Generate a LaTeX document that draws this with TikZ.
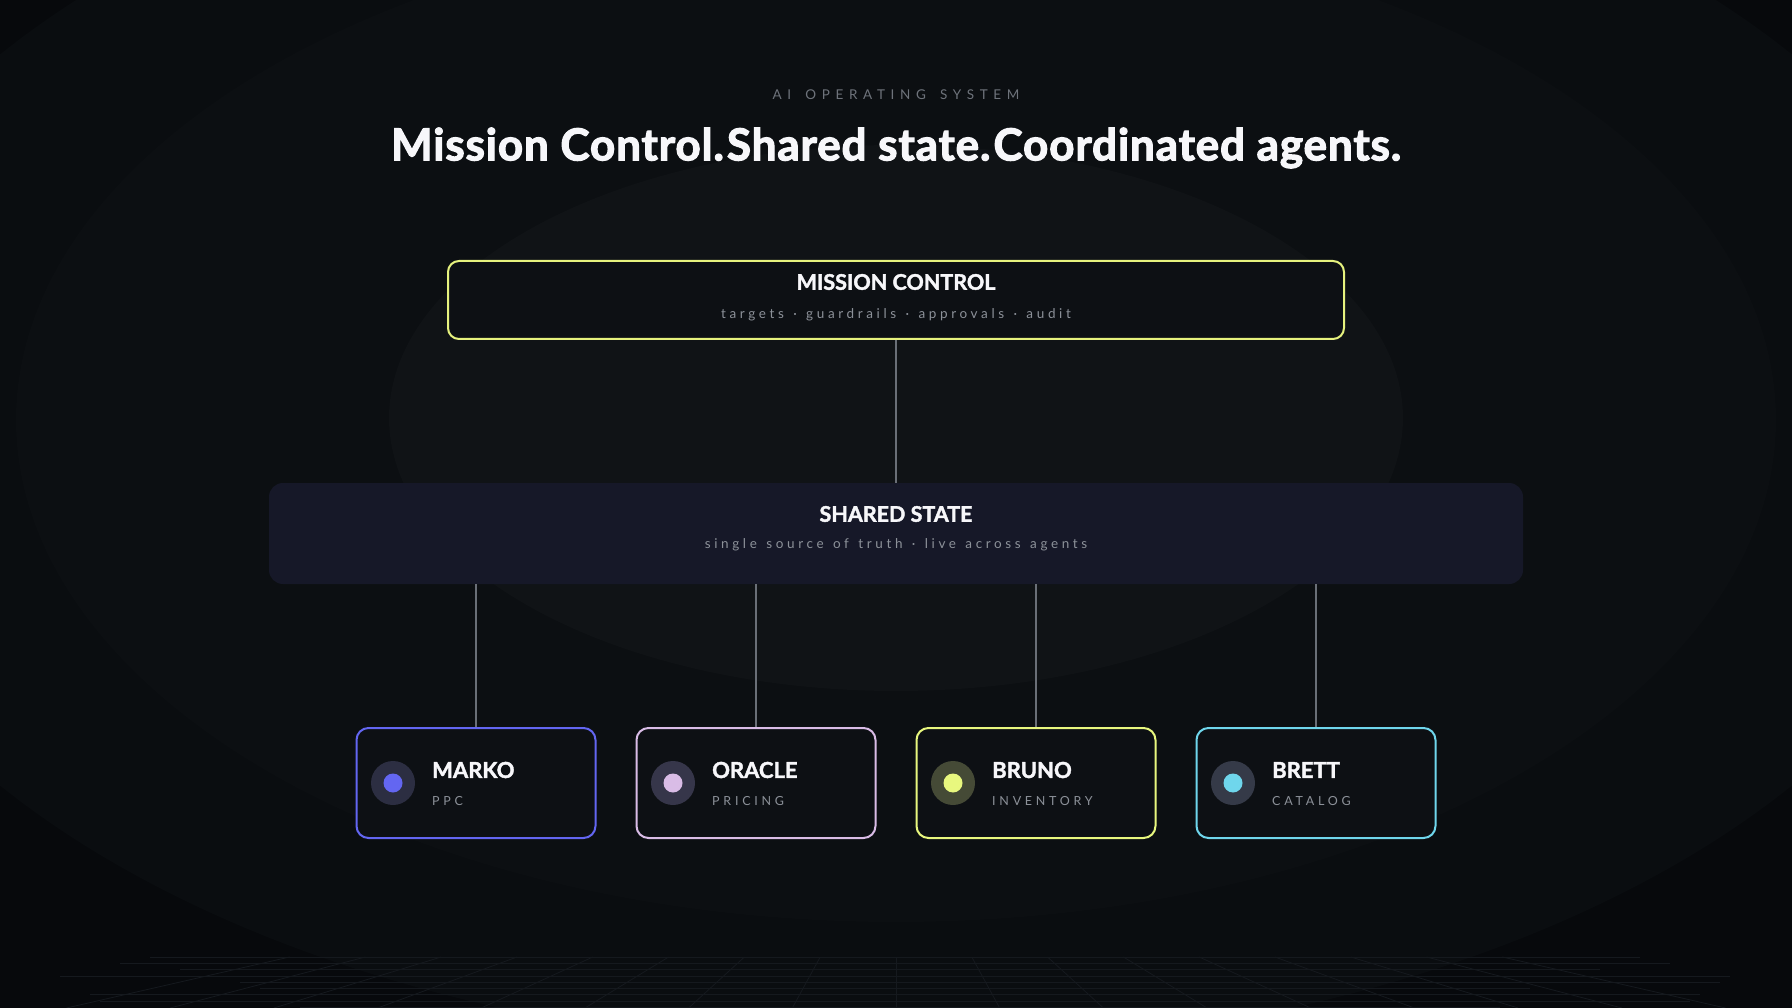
\documentclass[tikz,border=0pt]{standalone}
\usepackage{fontspec}
\setmainfont{Lato}
\newfontfamily\heavy{Lato}[BoldFeatures={FakeBold=1.8}]
\newfontfamily\ttl{Lato}[BoldFeatures={FakeBold=2.6, LetterSpace=2}]
\newfontfamily\trk{Lato}[LetterSpace=30]
\newfontfamily\trkk{Lato}[LetterSpace=42, WordSpace=1.55]
\newfontfamily\trks{Lato}[LetterSpace=27, WordSpace=1.32]
\definecolor{bgA}{HTML}{07090C}
\definecolor{bgB}{HTML}{0A0D10}
\definecolor{bgC}{HTML}{0C0F12}
\definecolor{bgD}{HTML}{101316}
\definecolor{gridc}{HTML}{15191E}
\definecolor{boxfill}{HTML}{0D1014}
\definecolor{ssfill}{HTML}{161828}
\definecolor{mcY}{HTML}{E6F27E}
\definecolor{cMarko}{HTML}{6366F1}
\definecolor{cOracle}{HTML}{D9BCE6}
\definecolor{cBruno}{HTML}{E8F77E}
\definecolor{cBrett}{HTML}{6FD6EC}
\definecolor{dMarko}{HTML}{2C2E42}
\definecolor{dOracle}{HTML}{36364A}
\definecolor{dBruno}{HTML}{454A36}
\definecolor{dBrett}{HTML}{353A48}
\definecolor{txtW}{HTML}{F7F7FA}
\definecolor{txtG}{HTML}{8C9199}
\definecolor{txtK}{HTML}{6E737B}
\definecolor{connc}{HTML}{6A6F77}
\tikzset{
  conn/.style={draw=connc, line width=1.4pt},
  agentbox/.style={draw=#1, line width=2pt, fill=boxfill, rounded corners=12pt,
    minimum width=239pt, minimum height=110pt, inner sep=0pt},
  nametext/.style={anchor=west, text=txtW, font=\heavy\bfseries\fontsize{22}{26}\selectfont, inner sep=0pt},
  roletext/.style={anchor=west, text=txtG, font=\trk\fontsize{12.5}{15}\selectfont, inner sep=0pt},
  boxtitle/.style={text=txtW, font=\heavy\bfseries\fontsize{21.5}{25}\selectfont, inner sep=0pt},
  boxsub/.style={text=txtG, font=\trks\fontsize{13.5}{16}\selectfont, inner sep=0pt},
}
\begin{document}
\begin{tikzpicture}[x=1pt,y=-1pt]
\useasboundingbox (0,0) rectangle (1792,1008);
% background
\fill[bgA] (0,0) rectangle (1792,1008);
\fill[bgB] (896,420) ellipse [x radius=1100pt, y radius=630pt];
\fill[bgC] (896,420) ellipse [x radius=880pt, y radius=502pt];
\fill[bgD] (896,418) ellipse [x radius=507pt, y radius=273pt];
% faint grid
\begin{scope}
\clip (0,0) rectangle (1792,1008);
\foreach \yy/\xa/\xb in {957/150/1640,963.3/120/1670,969.6/180/1600,975.9/60/1730,982.2/240/1720,988.5/260/1530,994.8/90/1700,1001.1/100/1690,1007.4/300/1500}
  \draw[gridc, line width=0.8pt] (\xa,\yy) -- (\xb,\yy);
\foreach \k in {-8,...,8}
  \draw[gridc, line width=0.8pt] ({896+\k*75.8},957) -- ({896+\k*103.7},1008);
\end{scope}
% header
\node[text=txtK, font=\trkk\fontsize{13.5}{16}\selectfont, inner sep=0pt] (kicker) at (896,95) {AI OPERATING SYSTEM};
\node[text=txtW, font=\ttl\bfseries\fontsize{44}{52}\selectfont, inner sep=0pt] (title) at (896,148)
  {Mission Control.\hspace{3pt}Shared state.\hspace{3pt}Coordinated agents.};
% mission control
\node[draw=mcY, line width=2pt, fill=boxfill, rounded corners=11pt, minimum width=896pt, minimum height=78pt, inner sep=0pt] (mc) at (896,300) {};
\node[boxtitle] (mct) at (896,282) {MISSION CONTROL};
\node[boxsub] (mcs) at (896,315) {targets · guardrails · approvals · audit};
% shared state
\node[fill=ssfill, rounded corners=14pt, minimum width=1254pt, minimum height=101pt, inner sep=0pt] (ss) at (896,533.5) {};
\node[boxtitle] (sst) at (896,514) {SHARED STATE};
\node[boxsub] (sss) at (896,545) {single source of truth · live across agents};
\draw[conn] (mc.south) -- (ss.north);
% agents
\foreach \nm/\cx/\col/\dk/\name/\role in {a1/476/cMarko/dMarko/MARKO/PPC, a2/756/cOracle/dOracle/ORACLE/PRICING, a3/1036/cBruno/dBruno/BRUNO/INVENTORY, a4/1316/cBrett/dBrett/BRETT/CATALOG}{
  \node[agentbox=\col] (\nm) at (\cx,783) {};
  \node[circle, fill=\dk, minimum size=44pt, inner sep=0pt] (\nm o) at ({\cx-83},783) {};
  \node[circle, fill=\col, minimum size=19pt, inner sep=0pt] (\nm i) at ({\cx-83},783) {};
  \node[nametext] (\nm n) at ({\cx-44},770) {\name};
  \node[roletext] (\nm r) at ({\cx-44},801) {\role};
  \draw[conn] (ss.south -| \nm.north) -- (\nm.north);
}
\end{tikzpicture}
\end{document}
